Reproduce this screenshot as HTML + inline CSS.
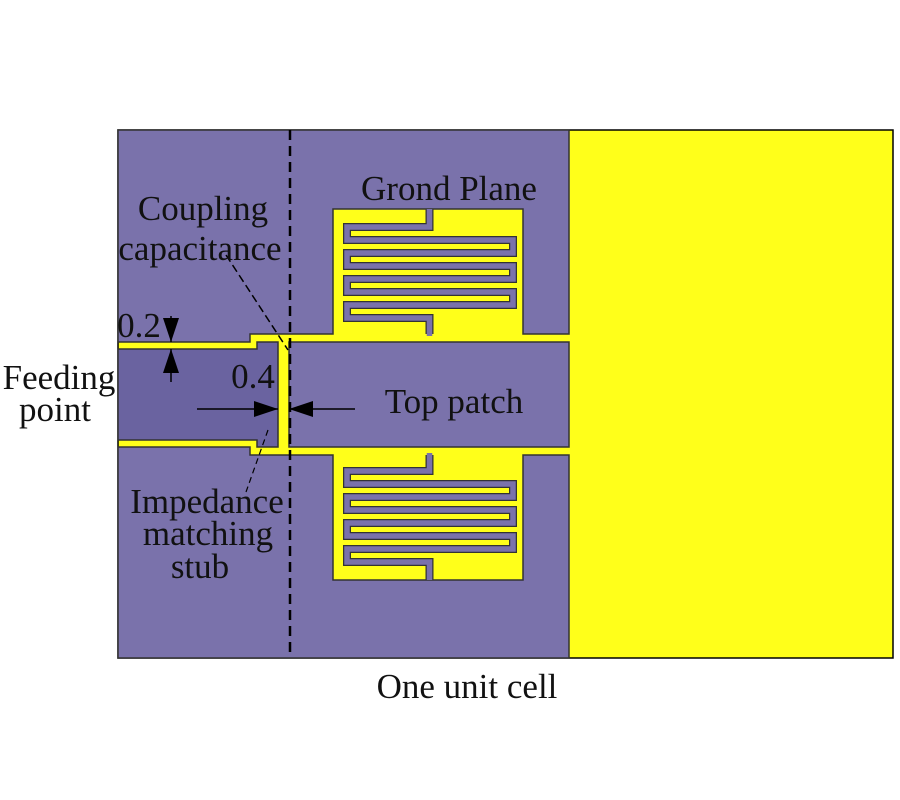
<!DOCTYPE html>
<html><head><style>body{margin:0;background:#fff}svg{display:block}text{font-family:"Liberation Serif",serif;font-size:35px;fill:#111}</style></head><body>
<svg width="900" height="800" viewBox="0 0 900 800">
<defs>
<marker id="b" markerWidth="24" markerHeight="16" refX="24" refY="8" orient="auto" markerUnits="userSpaceOnUse"><path d="M0,0 L24,8 L0,16z" fill="#000"/></marker></defs>
<rect x="118" y="130" width="775" height="528" fill="#ffff1a" stroke="#000" stroke-width="1.5"/>
<path d="M118,130 H569 V334 H523 V209 H333 V334 H250 V342 H118 Z" fill="#7a72ab" stroke="#333" stroke-width="1.5"/>
<path d="M118,658 H569 V455 H523 V580 H333 V455 H250 V447 H118 Z" fill="#7a72ab" stroke="#333" stroke-width="1.5"/>
<rect x="289" y="342" width="280" height="105" fill="#7a72ab" stroke="#333" stroke-width="1.5"/>
<path d="M118,349 H257 V342 H278 V447 H257 V440 H118 Z" fill="#6a63a0" stroke="#333" stroke-width="1.5"/>
<g fill="none" stroke-linejoin="miter">
<path d="M429.5,209 V227 H347 V240 H513 V253 H347 V266 H513 V279 H347 V292 H513 V305 H347 V318 H429.5 V334" stroke="#333" stroke-width="8"/>
<path d="M429.5,209 V227 H347 V240 H513 V253 H347 V266 H513 V279 H347 V292 H513 V305 H347 V318 H429.5 V336" stroke="#7a72ab" stroke-width="5.5"/>
<g transform="translate(0,789) scale(1,-1)">
<path d="M429.5,209 V227 H347 V240 H513 V253 H347 V266 H513 V279 H347 V292 H513 V305 H347 V318 H429.5 V334" stroke="#333" stroke-width="8"/>
<path d="M429.5,209 V227 H347 V240 H513 V253 H347 V266 H513 V279 H347 V292 H513 V305 H347 V318 H429.5 V336" stroke="#7a72ab" stroke-width="5.5"/>
</g></g>
<line x1="290" y1="130" x2="290" y2="658" stroke="#000" stroke-width="2.5" stroke-dasharray="10,6"/>
<line x1="226" y1="255" x2="288" y2="350" stroke="#000" stroke-width="1.5" stroke-dasharray="8,4"/>
<line x1="268" y1="430" x2="246" y2="492" stroke="#000" stroke-width="1.2" stroke-dasharray="6,4"/>
<line x1="171" y1="316" x2="171" y2="342" stroke="#000" stroke-width="1.5" marker-end="url(#b)"/>
<line x1="171" y1="382" x2="171" y2="349" stroke="#000" stroke-width="1.5" marker-end="url(#b)"/>
<line x1="197" y1="409" x2="278" y2="409" stroke="#000" stroke-width="1.5" marker-end="url(#b)"/>
<line x1="355" y1="409" x2="289" y2="409" stroke="#000" stroke-width="1.5" marker-end="url(#b)"/>
<text x="449" y="200" text-anchor="middle">Grond Plane</text>
<text x="203" y="220" text-anchor="middle">Coupling</text>
<text x="200" y="260" text-anchor="middle">capacitance</text>
<text x="139" y="337" text-anchor="middle">0.2</text>
<text x="59" y="389" text-anchor="middle">Feeding</text>
<text x="55" y="421" text-anchor="middle">point</text>
<text x="253" y="388" text-anchor="middle">0.4</text>
<text x="454" y="413" text-anchor="middle">Top patch</text>
<text x="207" y="513" text-anchor="middle">Impedance</text>
<text x="208" y="545" text-anchor="middle">matching</text>
<text x="200" y="578" text-anchor="middle">stub</text>
<text x="467" y="698" text-anchor="middle">One unit cell</text>
</svg>
</body></html>
